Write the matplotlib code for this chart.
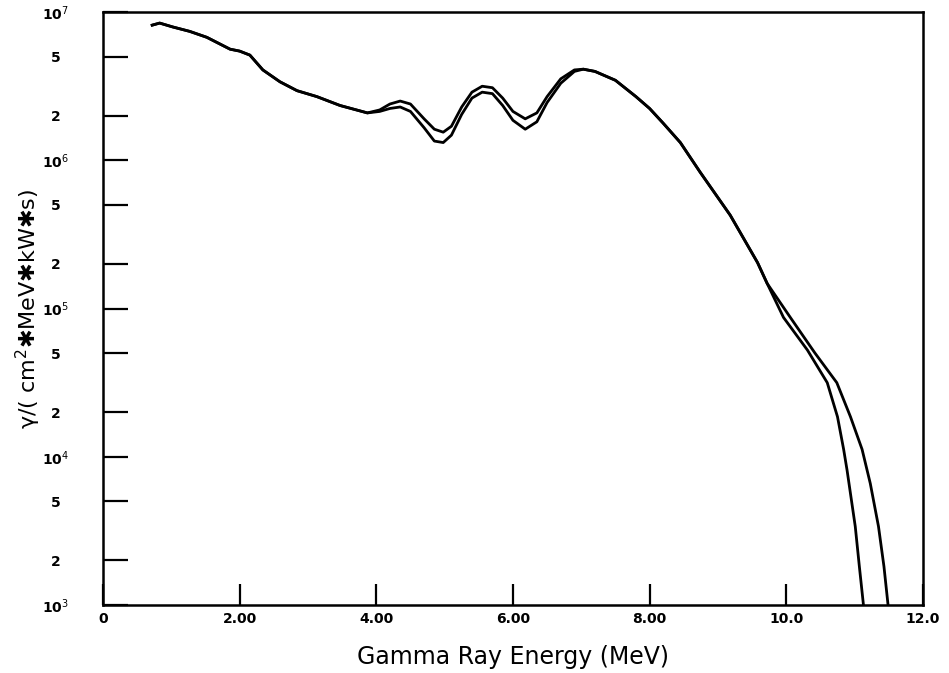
import numpy as np
import matplotlib
matplotlib.use("Agg")
import matplotlib.pyplot as plt
from matplotlib.ticker import FixedLocator, FixedFormatter, NullLocator

# Energy (MeV) and log10 flux for the two spectra
energy_a = [0.72, 0.83, 1.02, 1.27, 1.52, 1.86, 2.0, 2.15, 2.34, 2.59, 2.84, 3.13, 3.47, 3.87,
            4.05, 4.2, 4.35, 4.5, 4.7, 4.85, 4.98, 5.1, 5.25, 5.4, 5.55, 5.7, 5.85, 6.0, 6.18,
            6.35, 6.5, 6.7, 6.9, 7.03, 7.2, 7.5, 7.8, 8.0, 8.2, 8.45, 8.74, 9.18, 9.58, 9.72,
            10.06, 10.42, 10.74, 10.94, 11.11, 11.23, 11.35, 11.43, 11.49]
log_flux_a = [6.912, 6.926, 6.90, 6.87, 6.83, 6.75, 6.737, 6.71, 6.61, 6.53, 6.47, 6.43, 6.37, 6.32,
              6.34, 6.38, 6.40, 6.38, 6.28, 6.21, 6.19, 6.23, 6.36, 6.46, 6.50, 6.49, 6.42, 6.33, 6.28,
              6.32, 6.43, 6.55, 6.61, 6.615, 6.60, 6.54, 6.43, 6.35, 6.25, 6.12, 5.92, 5.63, 5.31, 5.17,
              4.94, 4.70, 4.50, 4.27, 4.05, 3.82, 3.53, 3.26, 3.0]

energy_b = [0.72, 0.83, 1.02, 1.27, 1.52, 1.86, 2.0, 2.15, 2.34, 2.59, 2.84, 3.13, 3.47, 3.87,
            4.05, 4.2, 4.35, 4.5, 4.7, 4.85, 4.98, 5.1, 5.25, 5.4, 5.55, 5.7, 5.85, 6.0, 6.18,
            6.35, 6.5, 6.7, 6.9, 7.03, 7.2, 7.5, 7.8, 8.0, 8.2, 8.45, 8.74, 9.18, 9.58, 9.72,
            9.96, 10.31, 10.6, 10.75, 10.84, 10.89, 11.01, 11.07, 11.13]
log_flux_b = [6.912, 6.926, 6.90, 6.87, 6.83, 6.75, 6.737, 6.71, 6.61, 6.53, 6.47, 6.43, 6.37, 6.32,
              6.33, 6.35, 6.36, 6.33, 6.22, 6.13, 6.12, 6.17, 6.31, 6.42, 6.46, 6.45, 6.37, 6.27, 6.21,
              6.26, 6.39, 6.52, 6.60, 6.615, 6.60, 6.54, 6.43, 6.35, 6.25, 6.12, 5.92, 5.63, 5.31, 5.17,
              4.94, 4.72, 4.50, 4.27, 4.05, 3.91, 3.53, 3.26, 3.0]

x_ticks = [0, 2, 4, 6, 8, 10, 12]
x_tick_labels = ["0", "2.00", "4.00", "6.00", "8.00", "10.0", "12.0"]
y_major = [1e3, 1e4, 1e5, 1e6, 1e7]
y_major_labels = [r"10$^3$", r"10$^4$", r"10$^5$", r"10$^6$", r"10$^7$"]
y_minor_mult = [2, 5]

fig = plt.figure(figsize=(9.49, 6.73), dpi=100)
ax = fig.add_axes([0.1085, 0.101, 0.864, 0.881])

ax.plot(energy_a, 10 ** np.array(log_flux_a), color="black", lw=2.0, solid_joinstyle="round")
ax.plot(energy_b, 10 ** np.array(log_flux_b), color="black", lw=2.0, solid_joinstyle="round")

ax.set_yscale("log")
ax.set_xlim(0, 12)
ax.set_ylim(1e3, 1e7)

ax.xaxis.set_major_locator(FixedLocator(x_ticks))
ax.xaxis.set_major_formatter(FixedFormatter(x_tick_labels))
ax.xaxis.set_minor_locator(NullLocator())

minor_vals = [m * 10 ** e for e in range(3, 7) for m in y_minor_mult]
minor_labels = [str(m) for e in range(3, 7) for m in y_minor_mult]
ax.yaxis.set_major_locator(FixedLocator(y_major))
ax.yaxis.set_major_formatter(FixedFormatter(y_major_labels))
ax.yaxis.set_minor_locator(FixedLocator(minor_vals))
ax.yaxis.set_minor_formatter(FixedFormatter(minor_labels))

ax.tick_params(axis="x", which="major", direction="in", length=15, width=1.6,
               labelsize=10, pad=5)
ax.tick_params(axis="y", which="both", direction="in", length=18, width=1.6,
               labelsize=10, pad=34)
for lbl in ax.get_yticklabels(which="both"):
    lbl.set_horizontalalignment("center")
for lbl in ax.get_xticklabels() + ax.get_yticklabels(which="both"):
    lbl.set_fontweight("bold")

for sp in ax.spines.values():
    sp.set_linewidth(1.8)

ax.set_xlabel("Gamma Ray Energy (MeV)", fontsize=17, labelpad=14)
ax.set_ylabel("γ/( cm$^2$✱MeV✱kW✱s)", fontsize=16)
ax.yaxis.set_label_coords(-0.073, 0.5)

fig.savefig("out.png", dpi=100)
